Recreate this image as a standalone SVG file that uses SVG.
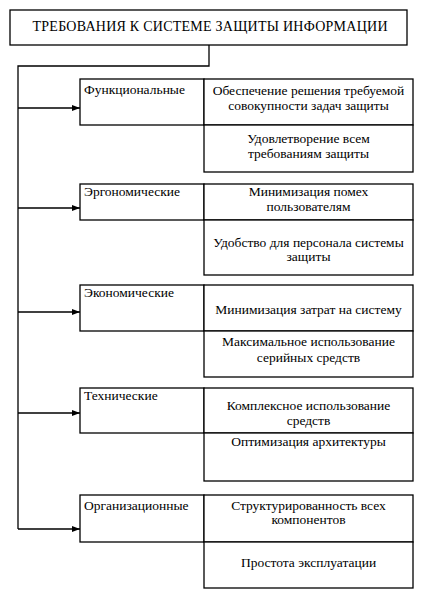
<svg xmlns="http://www.w3.org/2000/svg" width="422" height="595" viewBox="0 0 422 595" font-family="'Liberation Serif', 'Times New Roman', serif">
<defs>
<marker id="arr" markerWidth="8" markerHeight="6" refX="8" refY="3" orient="auto" markerUnits="userSpaceOnUse">
<path d="M0,0 L8,3 L0,6 Z" fill="#000"/>
</marker>
<style>
rect{fill:#fff;stroke:#000;stroke-width:1.3}
text{font-family:'Liberation Serif','Times New Roman','DejaVu Serif',serif;font-size:13.5px;fill:#000}
.c{text-anchor:middle}
.t{font-size:14px;text-anchor:middle}
.ln{fill:none;stroke:#000;stroke-width:1.3}
</style>
</defs>
<rect x="0" y="0" width="422" height="595" style="fill:#fff;stroke:none"/>
<g id="title">
<rect x="10" y="10" width="397" height="35"/>
<text class="t" x="210" y="31" textLength="355" lengthAdjust="spacing">ТРЕБОВАНИЯ К СИСТЕМЕ ЗАЩИТЫ ИНФОРМАЦИИ</text>
</g>
<g id="connectors">
<path class="ln" d="M209,45 V66 H18 V529"/>
<path class="ln" d="M18,108 H80" marker-end="url(#arr)"/>
<path class="ln" d="M18,208 H80" marker-end="url(#arr)"/>
<path class="ln" d="M18,312 H80" marker-end="url(#arr)"/>
<path class="ln" d="M18,413 H80" marker-end="url(#arr)"/>
<path class="ln" d="M18,529 H80" marker-end="url(#arr)"/>
</g>
<g id="functional">
<rect x="80" y="79" width="124" height="46"/>
<text x="84" y="94">Функциональные</text>
<rect x="204" y="79" width="209" height="46"/>
<text class="c" x="308.5" y="95">Обеспечение решения требуемой</text>
<text class="c" x="308.5" y="110">совокупности задач защиты</text>
<rect x="204" y="125" width="209" height="47"/>
<text class="c" x="308.5" y="143">Удовлетворение всем</text>
<text class="c" x="308.5" y="158">требованиям защиты</text>
</g>
<g id="ergonomic">
<rect x="80" y="184" width="124" height="36"/>
<text x="84" y="196">Эргономические</text>
<rect x="204" y="184" width="209" height="36"/>
<text class="c" x="308.5" y="196">Минимизация помех</text>
<text class="c" x="308.5" y="211">пользователям</text>
<rect x="204" y="220" width="209" height="55"/>
<text class="c" x="308.5" y="247">Удобство для персонала системы</text>
<text class="c" x="308.5" y="261">защиты</text>
</g>
<g id="economic">
<rect x="80" y="285" width="124" height="46"/>
<text x="84" y="297">Экономические</text>
<rect x="204" y="285" width="209" height="46"/>
<text class="c" x="308.5" y="314">Минимизация затрат на систему</text>
<rect x="204" y="331" width="209" height="46"/>
<text class="c" x="308.5" y="346">Максимальное использование</text>
<text class="c" x="308.5" y="362">серийных средств</text>
</g>
<g id="technical">
<rect x="80" y="388" width="124" height="45"/>
<text x="84" y="400">Технические</text>
<rect x="204" y="388" width="209" height="45"/>
<text class="c" x="308.5" y="410">Комплексное использование</text>
<text class="c" x="308.5" y="425">средств</text>
<rect x="204" y="433" width="209" height="48"/>
<text class="c" x="308.5" y="446">Оптимизация архитектуры</text>
</g>
<g id="organizational">
<rect x="80" y="495" width="124" height="47"/>
<text x="84" y="510">Организационные</text>
<rect x="204" y="495" width="209" height="47"/>
<text class="c" x="308.5" y="510">Структурированность всех</text>
<text class="c" x="308.5" y="524">компонентов</text>
<rect x="204" y="542" width="209" height="46"/>
<text class="c" x="308.5" y="567">Простота эксплуатации</text>
</g>
</svg>
